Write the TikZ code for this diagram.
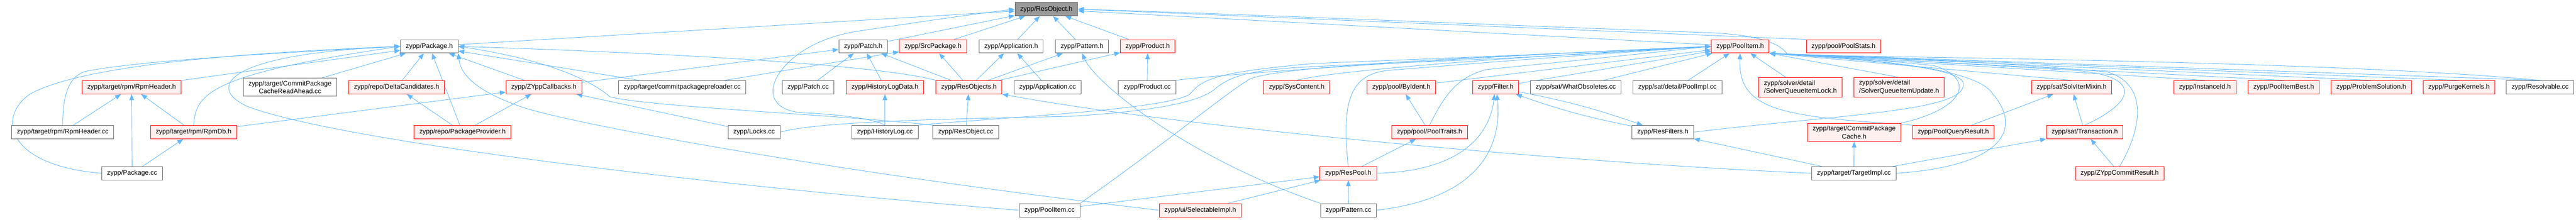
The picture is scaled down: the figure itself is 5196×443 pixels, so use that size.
\documentclass[tikz,border=0pt]{standalone}
\usepackage{fontspec}
\setmainfont{Liberation Sans}
\usepackage{xcolor}
\usetikzlibrary{arrows.meta}
\definecolor{edgeblue}{HTML}{63B8FF}
\definecolor{redfill}{HTML}{FFF0F0}
\definecolor{boxgray}{HTML}{666666}
\definecolor{rootfill}{HTML}{999999}
\pgfdeclarelayer{background}
\pgfsetlayers{background,main}
\tikzset{
	file/.style={rectangle, line width=0.75pt, inner xsep=7.9pt, inner ysep=3.96pt,
		minimum height=20.25pt, font=\fontsize{10}{12}\selectfont, text=black},
	plainfile/.style={file, draw=boxgray, fill=white},
	redfile/.style={file, draw=red, fill=redfill},
	rootfile/.style={file, draw=boxgray, fill=rootfill},
	inc/.style={draw=edgeblue, line width=0.7pt, -{Triangle[length=9pt,width=7pt]}},
}
\begin{document}
\begin{tikzpicture}[x=0.75pt,y=-0.75pt]
		\useasboundingbox (0,0) rectangle (5196,443);
		%Root
			\node[rootfile] (resobj) at (2110.5,18.5) {zypp/ResObject.h};
		%First row
			\node[plainfile] (pkgh) at (866,93.5) {zypp/Package.h};
			\node[plainfile] (patchh) at (1741,93.5) {zypp/Patch.h};
			\node[redfile] (srcpkgh) at (1882,93.5) {zypp/SrcPackage.h};
			\node[plainfile] (apph) at (2039.5,93.5) {zypp/Application.h};
			\node[plainfile] (patternh) at (2182.5,93.5) {zypp/Pattern.h};
			\node[redfile] (producth) at (2315,93.5) {zypp/Product.h};
			\node[redfile] (poolitemh) at (3510,93.5) {zypp/PoolItem.h};
			\node[redfile] (poolstats) at (3718.5,93.5) {zypp/pool/PoolStats.h};
		%Second row
			\node[redfile] (rpmheaderh) at (265.5,176) {zypp/target/rpm/RpmHeader.h};
			\node[plainfile, align=center] (readahead) at (585,176) {zypp/target/CommitPackage\\CacheReadAhead.cc};
			\node[redfile] (deltacand) at (800,176) {zypp/repo/DeltaCandidates.h};
			\node[redfile] (callbacks) at (1097,176) {zypp/ZYppCallbacks.h};
			\node[plainfile] (preloader) at (1376,176) {zypp/target/commitpackagepreloader.cc};
			\node[plainfile] (patchcc) at (1630,176) {zypp/Patch.cc};
			\node[redfile] (histdata) at (1785,176) {zypp/HistoryLogData.h};
			\node[redfile] (resobjects) at (1954.5,176) {zypp/ResObjects.h};
			\node[plainfile] (appcc) at (2113,176) {zypp/Application.cc};
			\node[plainfile] (productcc) at (2314,176) {zypp/Product.cc};
			\node[redfile] (syscontent) at (2615.5,176) {zypp/SysContent.h};
			\node[redfile] (byident) at (2826.5,176) {zypp/pool/ByIdent.h};
			\node[redfile] (filterh) at (3017,176) {zypp/Filter.h};
			\node[plainfile] (whatobs) at (3178.5,176) {zypp/sat/WhatObsoletes.cc};
			\node[plainfile] (poolimpl) at (3383.5,176) {zypp/sat/detail/PoolImpl.cc};
			\node[redfile, align=left] (sqilock) at (3631.5,176) {zypp/solver/detail\\/SolverQueueItemLock.h};
			\node[redfile, align=left] (sqiupdate) at (3830.5,176) {zypp/solver/detail\\/SolverQueueItemUpdate.h};
			\node[redfile] (solvitermixin) at (4178.5,176) {zypp/sat/SolvIterMixin.h};
			\node[redfile] (instanceid) at (4447.5,176) {zypp/InstanceId.h};
			\node[redfile] (itembest) at (4606.5,176) {zypp/PoolItemBest.h};
			\node[redfile] (problemsol) at (4783,176) {zypp/ProblemSolution.h};
			\node[redfile] (purgekernels) at (4960,176) {zypp/PurgeKernels.h};
			\node[plainfile] (resolvablecc) at (5123.5,176) {zypp/Resolvable.cc};
		%Third row
			\node[plainfile] (rpmheadercc) at (126.5,266.5) {zypp/target/rpm/RpmHeader.cc};
			\node[redfile] (rpmdbh) at (390.5,266.5) {zypp/target/rpm/RpmDb.h};
			\node[redfile] (pkgprovider) at (933,266.5) {zypp/repo/PackageProvider.h};
			\node[plainfile] (lockscc) at (1521,266.5) {zypp/Locks.cc};
			\node[plainfile] (histlogcc) at (1785,266.5) {zypp/HistoryLog.cc};
			\node[plainfile] (resobjcc) at (1948,266.5) {zypp/ResObject.cc};
			\node[redfile] (pooltraits) at (2883.5,266.5) {zypp/pool/PoolTraits.h};
			\node[plainfile] (resfilters) at (3354,266.5) {zypp/ResFilters.h};
			\node[redfile, align=center] (pkgcache) at (3740,267) {zypp/target/CommitPackage\\Cache.h};
			\node[redfile] (queryresult) at (3940,266.5) {zypp/PoolQueryResult.h};
			\node[redfile] (transaction) at (4205,266.5) {zypp/sat/Transaction.h};
		%Fourth row
			\node[plainfile] (pkgcc) at (266.5,349.5) {zypp/Package.cc};
			\node[redfile] (respool) at (2719.5,349.5) {zypp/ResPool.h};
			\node[plainfile] (targetimpl) at (3739.5,349.5) {zypp/target/TargetImpl.cc};
			\node[redfile] (commitresult) at (4275.5,349.5) {zypp/ZYppCommitResult.h};
		%Fifth row
			\node[plainfile] (poolitemcc) at (2117,424) {zypp/PoolItem.cc};
			\node[redfile] (selimpl) at (2421,424) {zypp/ui/SelectableImpl.h};
			\node[plainfile] (patterncc) at (2720,424) {zypp/Pattern.cc};
	\begin{pgfonlayer}{background}
		%Into the root
			\foreach \src in {pkgh,patchh,srcpkgh,apph,patternh,producth,poolitemh}
			{
				\draw[inc] (\src) -- (resobj);
			}
			\draw[inc] (poolstats.north west) -- (resobj.east);
			\draw[inc] (resolvablecc.north) .. controls (4700,122) and (3800,116) .. (3606,110) .. controls (3595,95) and (3570,72) .. (3450,66) .. controls (3000,50) and (2500,28) .. (resobj.east);
			\draw[inc] (histlogcc.north) .. controls (1760,238) and (1680,230) .. (1613,227) .. controls (1570,222) and (1555,200) .. (1560,175) .. controls (1566,140) and (1620,80) .. (1730,63) .. controls (1850,45) and (1950,30) .. (resobj.west);
		%Rpm part
			\draw[inc] (rpmheadercc) -- (rpmheaderh);
			\draw[inc] (rpmdbh) -- (rpmheaderh);
			\draw[inc] (pkgcc) -- (rpmheaderh);
			\draw[inc] (pkgcc) -- (rpmdbh);
			\draw[inc] (rpmheadercc.north) .. controls (126,190) and (140,150) .. (177,143) .. controls (300,120) and (600,105) .. (pkgh.west);
			\draw[inc] (pkgcc.west) .. controls (20,335) and (-10,240) .. (60,190) .. controls (150,140) and (400,110) .. (pkgh.west);
			\draw[inc] (rpmheaderh) -- (pkgh);
			\draw[inc] (rpmdbh.north) .. controls (395,190) and (420,150) .. (pkgh.west);
			\draw[inc] (rpmdbh) -- (callbacks);
		%Package.h
			\draw[inc] (readahead) -- (pkgh);
			\draw[inc] (deltacand) -- (pkgh);
			\draw[inc] (callbacks) -- (pkgh);
			\draw[inc] (pkgprovider) -- (pkgh);
			\draw[inc] (pkgprovider) -- (deltacand);
			\draw[inc] (pkgprovider) -- (callbacks);
			\draw[inc] (preloader) -- (pkgh);
			\draw[inc] (preloader) -- (srcpkgh);
			\draw[inc] (callbacks) -- (patchh);
			\draw[inc] (lockscc) -- (callbacks);
			\draw[inc] (resobjects.north west) .. controls (1800,138) and (1500,112) .. (pkgh.east);
			\draw[inc] (resobjcc.north west) .. controls (1700,232) and (1300,215) .. (1230,195) .. controls (1190,160) and (1100,120) .. (pkgh.east);
			\draw[inc] (selimpl.west) .. controls (1700,350) and (1150,250) .. (1050,215) .. controls (980,190) and (930,160) .. (pkgh.south east);
			\draw[inc] (poolitemcc.west) .. controls (1500,380) and (700,290) .. (500,215) .. controls (420,180) and (440,110) .. (pkgh.west);
		%Middle part
			\draw[inc] (patchcc) -- (patchh);
			\draw[inc] (histdata) -- (patchh);
			\draw[inc] (histlogcc) -- (histdata);
			\draw[inc] (resobjcc) -- (resobjects);
			\foreach \dst in {patchh,srcpkgh,apph,patternh,producth}
			{
				\draw[inc] (resobjects) -- (\dst);
			}
			\draw[inc] (appcc) -- (apph);
			\draw[inc] (productcc) -- (producth);
			\draw[inc] (patterncc.north west) .. controls (2400,320) and (2210,170) .. (patternh.south);
			\draw[inc] (targetimpl.west) .. controls (3200,330) and (2400,260) .. (resobjects.south east);
		%ResPool and filters
			\draw[inc] (patterncc) -- (respool);
			\draw[inc] (selimpl) -- (respool);
			\draw[inc] (poolitemcc) -- (respool);
			\draw[inc] (respool) -- (pooltraits);
			\draw[inc] (pooltraits) -- (byident);
			\draw[inc] (respool.east) .. controls (2950,345) and (3005,270) .. (filterh.260);
			\draw[inc] (patterncc.east) .. controls (2980,400) and (3030,300) .. (filterh.280);
			\draw[inc] (filterh) to[bend left=4] (resfilters);
			\draw[inc] (resfilters) to[bend left=4] (filterh);
		%PoolItem.h from the left
			\draw[inc] (productcc.north east) .. controls (2450,150) and (3000,112) .. (poolitemh.west);
			\draw[inc] (lockscc.east) .. controls (1650,245) and (1900,240) .. (2150,235) .. controls (2330,225) and (2420,205) .. (2450,180) .. controls (2490,145) and (2550,138) .. (2700,132) .. controls (3100,115) .. (poolitemh.west);
			\draw[inc] (histlogcc.north east) .. controls (2000,238) and (2350,222) .. (2400,190) .. controls (2425,158) and (2460,145) .. (2650,128) .. controls (3100,110) .. (poolitemh.west);
			\draw[inc] (poolitemcc.north east) .. controls (2350,290) and (2470,190) .. (2520,160) .. controls (2580,130) and (3100,110) .. (poolitemh.west);
			\draw[inc] (syscontent.north) .. controls (2700,140) and (3100,112) .. (poolitemh.west);
			\draw[inc] (respool.north) .. controls (2705,200) and (2725,150) .. (2800,142) .. controls (3100,118) .. (poolitemh.west);
			\draw[inc] (pooltraits.north) .. controls (2910,200) and (2935,155) .. (3000,140) .. controls (3200,120) .. (poolitemh.west);
			\foreach \src in {byident,filterh,whatobs,poolimpl}
			{
				\draw[inc] (\src) -- (poolitemh);
			}
		%PoolItem.h from the right
			\draw[inc] (sqilock) -- (poolitemh);
			\draw[inc] (sqiupdate.north) -- (poolitemh.south east);
			\draw[inc] (queryresult.north west) .. controls (3600,235) and (3505,225) .. (poolitemh.south);
			\draw[inc] (pkgcache.north east) .. controls (3960,220) and (3990,160) .. (3900,132) .. controls (3750,118) .. (poolitemh.south east);
			\draw[inc] (resfilters.east) .. controls (3700,232) and (3965,225) .. (3960,170) .. controls (3965,135) and (3750,120) .. (poolitemh.south east);
			\draw[inc] (targetimpl.east) .. controls (4040,335) and (4080,260) .. (4020,190) .. controls (3990,140) and (3800,120) .. (poolitemh.south east);
			\draw[inc] (transaction.north) .. controls (4320,200) and (4320,145) .. (4150,140) .. controls (3900,125) .. (poolitemh.south east);
			\draw[inc] (commitresult.north) .. controls (4320,260) and (4335,170) .. (4250,145) .. controls (4000,125) .. (poolitemh.south east);
			\foreach \src in {solvitermixin,instanceid,itembest,problemsol,purgekernels,resolvablecc}
			{
				\draw[inc] (\src.north) -- (poolitemh.south east);
			}
		%Target and sat part
			\draw[inc] (targetimpl) -- (resfilters);
			\draw[inc] (targetimpl) -- (pkgcache);
			\draw[inc] (targetimpl) -- (transaction);
			\draw[inc] (queryresult) -- (solvitermixin);
			\draw[inc] (transaction) -- (solvitermixin);
			\draw[inc] (commitresult) -- (transaction);
	\end{pgfonlayer}
\end{tikzpicture}
\end{document}
